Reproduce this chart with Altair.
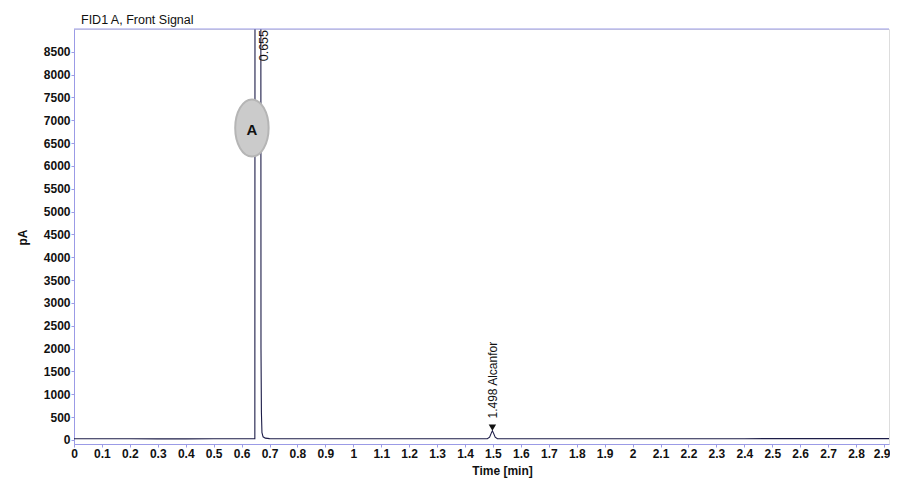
import altair as alt
import pandas as pd

# Chromatogram trace (time in min, signal in pA)
times = [0.0, 0.05, 0.10, 0.15, 0.20, 0.30, 0.40, 0.50, 0.60, 0.640, 0.6475,
         0.6480, 0.655, 0.6690, 0.6695, 0.6710, 0.6730, 0.6770, 0.685, 0.70,
         0.80, 0.90, 1.00, 1.10, 1.20, 1.30, 1.40, 1.480, 1.488, 1.494, 1.498,
         1.502, 1.508, 1.516, 1.60, 1.70, 1.80, 1.90, 2.00, 2.10, 2.20, 2.30,
         2.40, 2.50, 2.60, 2.70, 2.80, 2.90, 2.918]
signal = [26, 27, 28, 27, 26, 25, 25, 26, 26, 26, 27,
          9500, 30000, 9500, 2000, 600, 160, 70, 40, 30,
          28, 27, 27, 26, 26, 27, 26, 26, 60, 150, 200,
          150, 60, 28, 27, 27, 26, 26, 27, 27, 28, 28,
          28, 29, 29, 29, 30, 30, 30]

# Peak annotations
peak_rt = [0.655, 1.498]
peak_label = ["0.655", "1.498 Alcanfor"]
label_y = [8975, 470]
label_align = ["right", "left"]
marker_rt = [1.498]
marker_y = [270]

# Circled peak letter
letter_text = ["A"]
letter_rt = [0.637]
letter_y = [6830]

x_ticks = [0, 0.1, 0.2, 0.3, 0.4, 0.5, 0.6, 0.7, 0.8, 0.9, 1, 1.1, 1.2, 1.3,
           1.4, 1.5, 1.6, 1.7, 1.8, 1.9, 2, 2.1, 2.2, 2.3, 2.4, 2.5, 2.6, 2.7,
           2.8, 2.9]
y_ticks = [0, 500, 1000, 1500, 2000, 2500, 3000, 3500, 4000, 4500, 5000, 5500,
           6000, 6500, 7000, 7500, 8000, 8500]

x_domain = [0, 2.918]
y_domain = [-88, 8997]

FONT = "Liberation Sans"
AXIS_COLOR = "#9b9be6"
PLOT_W = 815
PLOT_H = 415

trace = pd.DataFrame({"t": times, "y": signal})
labels = pd.DataFrame({"t": peak_rt, "y": label_y, "text": peak_label,
                       "align": label_align})
markers = pd.DataFrame({"t": marker_rt, "y": marker_y})
letters = pd.DataFrame({"t": letter_rt, "y": letter_y, "text": letter_text})

xscale = alt.Scale(domain=x_domain, nice=False, zero=False)
yscale = alt.Scale(domain=y_domain, nice=False, zero=False)

last_label = alt.datum.value > 2.85

x_axis = alt.Axis(values=x_ticks, format=".1~f", grid=False, tickSize=3,
                  labelPadding=1, labelFont=FONT, labelFontSize=12,
                  labelFontWeight="bold", labelColor="#111111",
                  labelAlign=alt.condition(last_label, alt.value("right"), alt.value("center")),
                  labelOffset=alt.condition(last_label, alt.value(6), alt.value(0)),
                  domainColor=AXIS_COLOR, tickColor=AXIS_COLOR,
                  title="Time [min]", titleFont=FONT, titleFontSize=12,
                  titleFontWeight="bold", titleColor="#111111",
                  titleX=428, titleY=21, labelFlush=False, labelOverlap=False)
y_axis = alt.Axis(values=y_ticks, format="d", grid=False, tickSize=3,
                  labelPadding=1, labelFont=FONT, labelFontSize=12,
                  labelFontWeight="bold", labelColor="#111111",
                  domainColor=AXIS_COLOR, tickColor=AXIS_COLOR, title="pA",
                  titleFont=FONT, titleFontSize=12, titleFontWeight="bold",
                  titleColor="#111111", titleX=-52, titleY=208,
                  titleBaseline="middle", labelFlush=False, labelOverlap=False)

X = alt.X("t:Q", scale=xscale, axis=x_axis)
Y = alt.Y("y:Q", scale=yscale, axis=y_axis)

line = alt.Chart(trace).mark_line(color="#1c1c48", strokeWidth=1.1, clip=True).encode(
    x=X, y=Y)

# top frame line of the plot area
top_frame = alt.Chart(pd.DataFrame({"k": [0]})).mark_rule(
    color=AXIS_COLOR, strokeWidth=1).encode(
    x=alt.value(0), x2=alt.value(PLOT_W), y=alt.value(0))

label_a = alt.Chart(labels).transform_filter(alt.datum.align == "right").mark_text(
    angle=270, align="right", baseline="middle", dy=7, font=FONT, fontSize=12.5,
    color="#111111").encode(x=X, y=Y, text="text:N")

label_b = alt.Chart(labels).transform_filter(alt.datum.align == "left").mark_text(
    angle=270, align="left", baseline="middle", dy=1, font=FONT, fontSize=12,
    color="#111111").encode(x=X, y=Y, text="text:N")

tri = alt.Chart(markers).mark_point(shape="triangle-down", filled=True,
                                    color="#111111", size=55, opacity=1).encode(
    x=X, y=Y)

ellipse_path = "M 0 -1 A 0.586 1 0 1 1 0 1 A 0.586 1 0 1 1 0 -1 Z"
ell = alt.Chart(letters).mark_point(shape=ellipse_path, filled=True,
                                    fill="#cbcbcb", stroke="#b5b5b5",
                                    strokeWidth=2, size=3250, opacity=1,
                                    fillOpacity=1).encode(x=X, y=Y)
ell_txt = alt.Chart(letters).mark_text(font=FONT, fontSize=15, fontWeight="bold",
                                       color="#111111", dy=2).encode(
    x=X, y=Y, text="text:N")

chart = alt.layer(line, top_frame, label_a, label_b, tri, ell, ell_txt).properties(
    width=PLOT_W, height=PLOT_H,
    title=alt.TitleParams("FID1 A, Front Signal", anchor="start", frame="group",
                          dx=7, offset=2, font=FONT, fontSize=12.5,
                          fontWeight="normal", color="#111111"),
    autosize=alt.AutoSizeParams(type="none"),
    padding={"left": 66, "top": 21, "right": 1, "bottom": 38},
).configure_view(strokeWidth=0).configure(background="white")

chart.save("out.html", embed_options={"renderer": "svg", "actions": False})
